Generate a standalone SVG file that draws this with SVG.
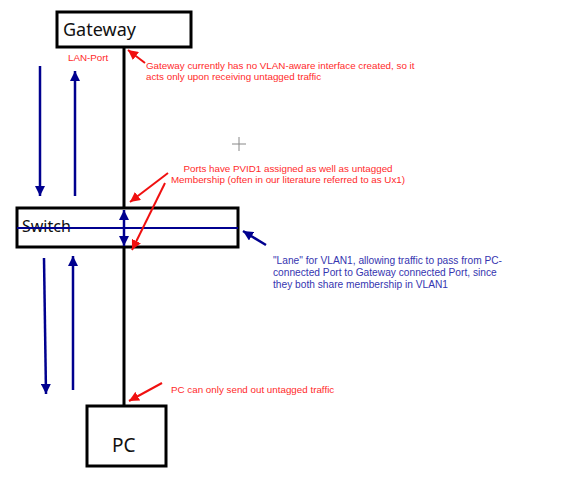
<svg xmlns="http://www.w3.org/2000/svg" width="576" height="487" viewBox="0 0 576 487">
<style>
.box{fill:#fff;stroke:#000;stroke-width:3}
.wire{stroke:#000;stroke-width:3;fill:none}
.big{font-family:"Noto Sans","Liberation Sans",sans-serif;fill:#111}
.red{font-family:"Liberation Sans",Arial,sans-serif;font-size:9.8px;fill:#ff2a2a}
.blue{font-family:"Liberation Sans",Arial,sans-serif;font-size:10.2px;fill:#3535b0}
.ba{stroke:#00008f;stroke-width:2.5;fill:none}
.ra{stroke:#f01010;stroke-width:2;fill:none}
</style>
<defs>
<marker id="bh" viewBox="0 0 10 10" refX="10" refY="5" markerWidth="4" markerHeight="4" orient="auto" markerUnits="strokeWidth"><path d="M0,0 L10,5 L0,10 z" fill="#00008f"/></marker>
<marker id="rh" viewBox="0 0 10 10" refX="10" refY="5" markerWidth="5" markerHeight="5" orient="auto" markerUnits="strokeWidth"><path d="M0,0 L10,5 L0,10 z" fill="#f01010"/></marker>
</defs>
<rect width="576" height="487" fill="#fff"/>
<g id="gateway">
<rect class="box" x="57" y="12" width="134" height="35"/>
<text class="big" x="63" y="36" font-size="18">Gateway</text>
</g>
<g id="switch">
<rect class="box" x="17" y="208" width="221" height="39"/>
<text class="big" x="22" y="232" font-size="16">Switch</text>
</g>
<g id="pc">
<rect class="box" x="87" y="406" width="79" height="60"/>
<text class="big" x="112" y="452" font-size="19">PC</text>
</g>
<g id="connectors">
<line class="wire" x1="124" y1="47" x2="124" y2="207"/>
<line class="wire" x1="124" y1="248" x2="124" y2="406"/>
<line x1="17" y1="228" x2="238" y2="228" stroke="#00008f" stroke-width="2"/>
<line class="ba" x1="40" y1="66" x2="40" y2="196" marker-end="url(#bh)"/>
<line class="ba" x1="75" y1="196" x2="75" y2="71" marker-end="url(#bh)"/>
<line class="ba" x1="44" y1="258" x2="46" y2="394" marker-end="url(#bh)"/>
<line class="ba" x1="73" y1="390" x2="73" y2="256" marker-end="url(#bh)"/>
<line class="ba" x1="124" y1="228" x2="124" y2="210" marker-end="url(#bh)"/>
<line class="ba" x1="124" y1="228" x2="124" y2="246" marker-end="url(#bh)"/>
<line class="ba" x1="266" y1="245" x2="243" y2="231" marker-end="url(#bh)"/>
<line class="ra" x1="145" y1="63" x2="128" y2="50" marker-end="url(#rh)"/>
<line class="ra" x1="168" y1="173" x2="130" y2="202" marker-end="url(#rh)"/>
<line class="ra" x1="165" y1="183" x2="132" y2="250" marker-end="url(#rh)"/>
<line class="ra" x1="162" y1="383" x2="129" y2="401" marker-end="url(#rh)"/>
</g>
<g id="labels">
<text class="red" x="68" y="61">LAN-Port</text>
<text class="red" x="146" y="69">Gateway currently has no VLAN-aware interface created, so it</text>
<text class="red" x="146" y="80">acts only upon receiving untagged traffic</text>
<text class="red" x="288" y="172" text-anchor="middle">Ports have PVID1 assigned as well as untagged</text>
<text class="red" x="288" y="183" text-anchor="middle">Membership (often in our literature referred to as Ux1)</text>
<text class="red" x="171" y="393">PC can only send out untagged traffic</text>
<text class="blue" x="273" y="264">"Lane" for VLAN1, allowing traffic to pass from PC-</text>
<text class="blue" x="273" y="276">connected Port to Gateway connected Port, since</text>
<text class="blue" x="273" y="288">they both share membership in VLAN1</text>
</g>
<g id="cursor" stroke="#888" stroke-width="1">
<line x1="239" y1="137" x2="239" y2="151"/>
<line x1="232" y1="144" x2="246" y2="144"/>
</g>
</svg>
